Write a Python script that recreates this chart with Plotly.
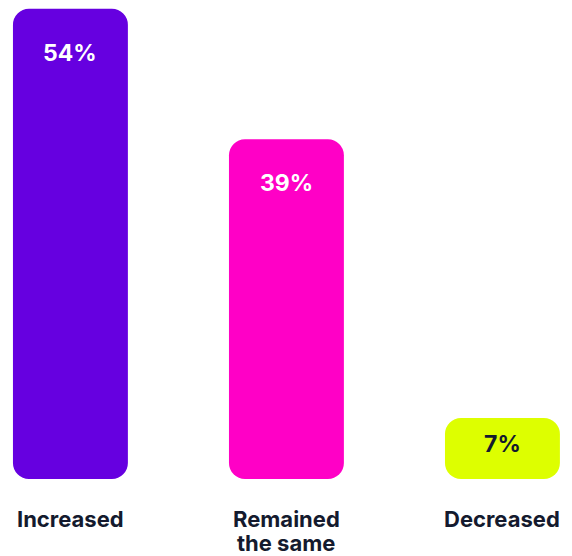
import plotly.graph_objects as go

categories = ["Increased", "Remained<br>the same", "Decreased"]
values = [54, 39, 7]
bar_colors = ["#6600E0", "#FF00C6", "#DDFF00"]
label_colors = ["#FFFFFF", "#FFFFFF", "#141A2E"]

FONT = "Inter"
x = list(range(len(categories)))

fig = go.Figure()
fig.add_trace(go.Bar(x=x, y=values, base=[0] * len(values), width=0.532,
                     marker=dict(color=bar_colors, cornerradius=16, line=dict(width=0)),
                     hoverinfo="skip"))

for i, v in enumerate(values):
    fig.add_annotation(x=i, y=max(v - 5.05, v / 2 + 0.5), text=f"{v}%",
                       showarrow=False, yanchor="middle",
                       font=dict(family=FONT, size=23, color=label_colors[i], weight=700))

for i, c in enumerate(categories):
    for j, line in enumerate(c.split("<br>")):
        fig.add_annotation(x=i, xref="x", y=0, yref="paper", text=line,
                           showarrow=False, yanchor="top", yshift=-26 - 23.5 * j,
                           borderpad=0,
                           font=dict(family=FONT, size=22, color="#141A2E", weight=700))

fig.update_layout(
    width=572, height=556,
    margin=dict(l=0, r=0, t=0, b=77),
    paper_bgcolor="white", plot_bgcolor="white",
    showlegend=False,
    xaxis=dict(range=[-0.326, 2.322], showticklabels=False,
               showgrid=False, zeroline=False, showline=False, ticks=""),
    yaxis=dict(range=[0, 55], visible=False, showgrid=False, zeroline=False),
)

fig.write_html("out.html")
